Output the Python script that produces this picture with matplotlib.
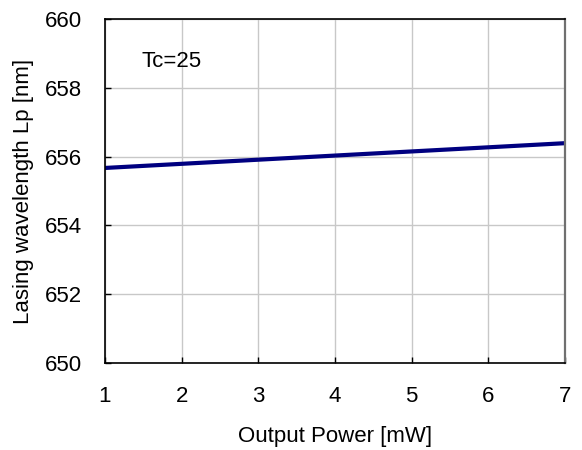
"""Lasing wavelength vs output power."""
import matplotlib

matplotlib.use("Agg")
import matplotlib.pyplot as plt

plt.rcParams["font.family"] = ["Liberation Sans", "DejaVu Sans"]

power_mw = [1, 7]
wavelength_nm = [655.67, 656.39]
x_ticks = [1, 2, 3, 4, 5, 6, 7]
y_ticks = [650, 652, 654, 656, 658, 660]

fig = plt.figure(figsize=(5.82, 4.5), dpi=100)
ax = fig.add_axes([0.1804, 0.1933, 0.7904, 0.7645])

ax.plot(power_mw, wavelength_nm, color="#000080", linewidth=3, solid_capstyle="butt")
ax.set_xlim(1, 7)
ax.set_ylim(650, 660)
ax.set_xticks(x_ticks)
ax.set_yticks(y_ticks)
ax.grid(True, color="#c8c8c8", linewidth=1)
ax.set_axisbelow(True)
ax.tick_params(direction="in", length=4, width=1, labelsize=16)
ax.tick_params(axis="y", pad=16.5)
ax.tick_params(axis="x", pad=16.5)
for side in ("left", "bottom", "top"):
    ax.spines[side].set_linewidth(1.2)
ax.spines["right"].set_color("#707070")
ax.spines["right"].set_linewidth(1.6)

ax.text(1.48, 658.75, "Tc=25", fontsize=16, va="center", ha="left")
ax.set_xlabel("Output Power [mW]", fontsize=16, labelpad=14)
ax.set_ylabel("Lasing wavelength Lp [nm]", fontsize=16, labelpad=8)

fig.savefig("out.png", dpi=100)
